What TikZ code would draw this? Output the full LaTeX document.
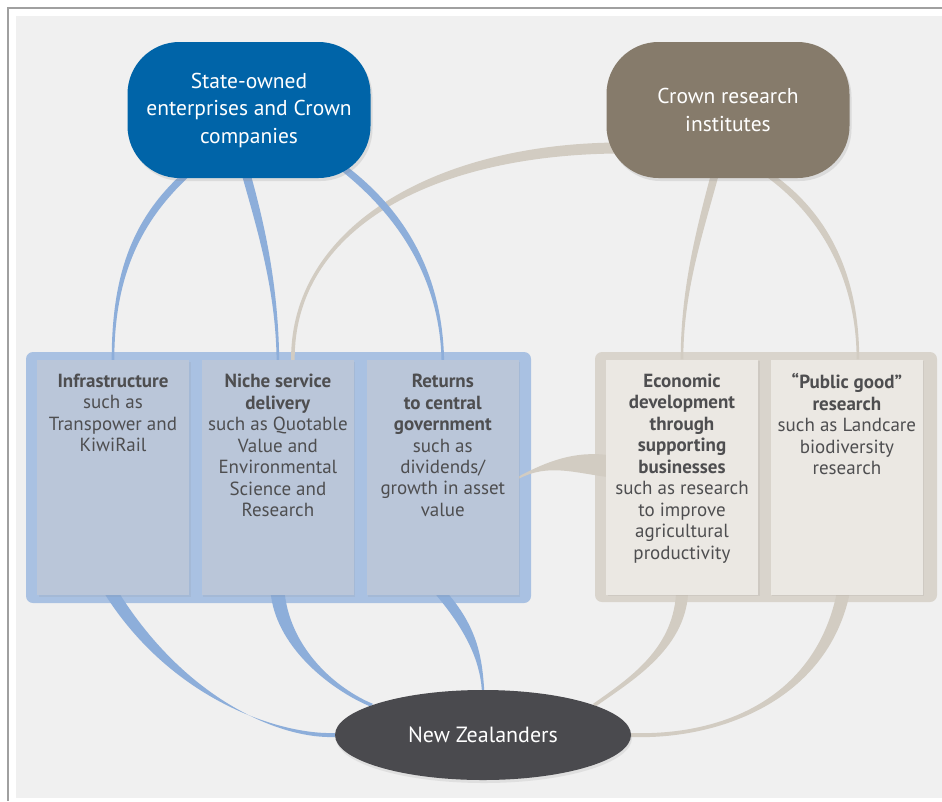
\documentclass[tikz,border=0pt]{standalone}
\usepackage{fontspec}
\setmainfont{PT Sans}
\usetikzlibrary{positioning,calc,shapes.geometric,shadows}

\definecolor{soeblue}{HTML}{0064A8}
\definecolor{crigray}{HTML}{867B6B}
\definecolor{nzgray}{HTML}{4A4A4E}
\definecolor{bluepanel}{HTML}{A9C1E2}
\definecolor{bluecard}{HTML}{BAC6D9}
\definecolor{beigepanel}{HTML}{D9D4CC}
\definecolor{beigecard}{HTML}{EBE8E3}
\definecolor{ribbonblue}{HTML}{8DAEDA}
\definecolor{ribbonbeige}{HTML}{D2CCC2}
\definecolor{panelgray}{HTML}{F0F0F0}
\definecolor{framegray}{HTML}{A0A0A0}
\definecolor{textgray}{HTML}{4E4E50}

\pgfdeclarelayer{back}
\pgfdeclarelayer{ribbons}
\pgfsetlayers{back,ribbons,main}

% tapered band: style, start, half-width at start, control 1, control 2, end, half-width at end
\newcommand{\ribbon}[7]{%
  \fill[#1] ($(#2)+(#3)$) .. controls ($(#4)+(#3)$) and ($(#5)+(#7)$) .. ($(#6)+(#7)$)
    -- ($(#6)-(#7)$) .. controls ($(#5)-(#7)$) and ($(#4)-(#3)$) .. ($(#2)-(#3)$) -- cycle;}

\tikzset{
  pill/.style={rectangle, rounded corners=52pt, minimum width=243pt, minimum height=136pt,
    text=white, align=center, font=\fontsize{21.5}{27.5}\selectfont,
    drop shadow={shadow xshift=2pt, shadow yshift=-3pt, opacity=0.18}},
  card/.style={rectangle, minimum width=152pt, minimum height=235pt, inner sep=0pt,
    drop shadow={shadow xshift=1.5pt, shadow yshift=-1.5pt, opacity=0.12}},
  cardtext/.style={align=center, text=textgray, inner sep=0pt, font=\fontsize{19}{21.5}\selectfont},
  blueribbon/.style={fill=ribbonblue},
  beigeribbon/.style={fill=ribbonbeige},
}

\begin{document}
\begin{tikzpicture}[x=1pt, y=-1pt]
  \useasboundingbox (0,0) rectangle (942,801);

  % frame and the two panels
  \begin{pgfonlayer}{back}
    \fill[white] (0,0) rectangle (942,801);
    \draw[framegray, line width=1.2pt] (8,801) -- (8,8) -- (942,8);
    \fill[panelgray] (16,16) rectangle (942,798);
    \fill[bluepanel, rounded corners=7pt] (26,352) rectangle (531,603);
    \fill[beigepanel, rounded corners=7pt] (595,352) rectangle (937,602);
  \end{pgfonlayer}

  \node[pill, fill=soeblue] (soe) at (249,110) {State-owned\\enterprises and Crown\\companies};
  \node[pill, fill=crigray] (cri) at (728,110) {Crown research\\institutes};

  \node[card, fill=bluecard] (b1) at (113,477.5) {};
  \node[card, fill=bluecard, right=12.5pt of b1] (b2) {};
  \node[card, fill=bluecard, right=12.5pt of b2] (b3) {};
  \node[card, fill=beigecard] (r1) at (682,477) {};
  \node[card, fill=beigecard, right=12.5pt of r1] (r2) {};

  \node[cardtext, below=14pt of b1.north] {\textbf{Infrastructure}\\such as\\Transpower and\\KiwiRail};
  \node[cardtext, below=14pt of b2.north] {\textbf{Niche service}\\\textbf{delivery}\\such as Quotable\\Value and\\Environmental\\Science and\\Research};
  \node[cardtext, below=14pt of b3.north] {\textbf{Returns}\\\textbf{to central}\\\textbf{government}\\such as\\dividends/\\growth in asset\\value};
  \node[cardtext, below=14pt of r1.north] {\textbf{Economic}\\\textbf{development}\\\textbf{through}\\\textbf{supporting}\\\textbf{businesses}\\such as research\\to improve\\agricultural\\productivity};
  \node[cardtext, below=14pt of r2.north] {\textbf{“Public good”}\\\textbf{research}\\such as Landcare\\biodiversity\\research};

  \node[ellipse, fill=nzgray, minimum width=296pt, minimum height=90pt, text=white,
    font=\fontsize{22}{26}\selectfont,
    drop shadow={shadow xshift=1pt, shadow yshift=-3pt, opacity=0.15}] (nz) at (483,735) {New Zealanders};

  \begin{pgfonlayer}{ribbons}
    \coordinate (soeA) at ($(soe.south)+(-58,-8)$);
    \coordinate (soeB) at ($(soe.south)+(-4,-8)$);
    \coordinate (soeC) at ($(soe.south)+(92,-12)$);
    \coordinate (criA) at ($(cri.west)+(10,38)$);
    \coordinate (criB) at ($(cri.south)+(-12,-8)$);
    \coordinate (criC) at ($(cri.south)+(34,-8)$);
    \coordinate (b2top) at ($(b2.north)+(15,0)$);
    \coordinate (r2top) at ($(r2.north)+(11,0)$);
    \coordinate (r2bot) at ($(r2.south)+(-4,0)$);
    \coordinate (r1side) at ($(r1.west)+(2,-11)$);
    % down from the two owners
    \ribbon{beigeribbon}{criA}{0,5.5}{430,150}{292,230}{b2top}{1.8,0}
    \ribbon{beigeribbon}{criB}{4,0}{700,230}{682,290}{r1.north}{1.3,0}
    \ribbon{beigeribbon}{criC}{5,0}{830,215}{858,285}{r2top}{1.3,0}
    \ribbon{blueribbon}{soeA}{5,0}{140,215}{113,270}{b1.north}{1.3,0}
    \ribbon{blueribbon}{soeB}{4.5,0}{262,230}{277,290}{b2.north}{1.3,0}
    \ribbon{blueribbon}{soeC}{5.5,0}{405,215}{441,280}{b3.north}{1.3,0}
    % into New Zealanders
    \ribbon{blueribbon}{b1.south}{7.5,0}{180,700}{280,737}{nz.west}{0,2}
    \ribbon{blueribbon}{b2.south}{7,0}{285,650}{335,690}{nz.165}{1.3,-1.3}
    \ribbon{blueribbon}{b3.south}{6.5,0}{472,630}{481,660}{nz.north}{1.2,0}
    \ribbon{beigeribbon}{r1.south}{6,0}{678,650}{630,680}{nz.15}{1.3,1.3}
    \ribbon{beigeribbon}{r2bot}{6.5,0}{820,700}{720,738}{nz.east}{0,2}
    \ribbon{beigeribbon}{b3.east}{0,1.2}{548,462}{575,462}{r1side}{0,11}
  \end{pgfonlayer}
\end{tikzpicture}
\end{document}
